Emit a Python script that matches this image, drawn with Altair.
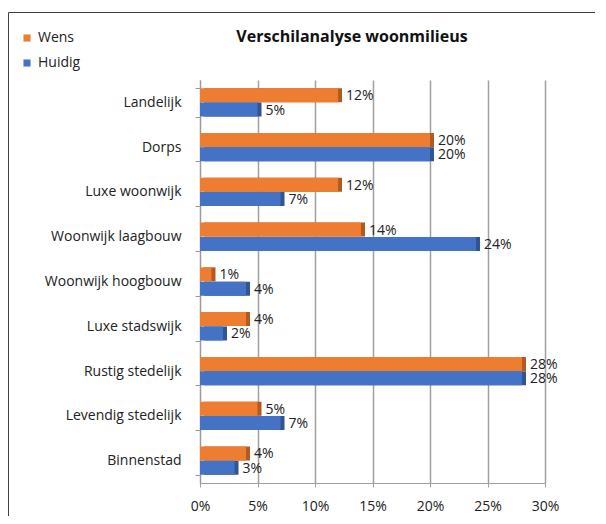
import altair as alt
import pandas as pd

categories = ["Landelijk", "Dorps", "Luxe woonwijk", "Woonwijk laagbouw",
              "Woonwijk hoogbouw", "Luxe stadswijk", "Rustig stedelijk",
              "Levendig stedelijk", "Binnenstad"]
wens = [12, 20, 12, 14, 1, 4, 28, 5, 4]
huidig = [5, 20, 7, 24, 4, 2, 28, 7, 3]
series = ["Wens", "Huidig"]
colors = ["#ED7D31", "#4472C4"]
dark_colors = ["#B45A1F", "#2F5597"]
x_ticks = [0, 0.05, 0.10, 0.15, 0.20, 0.25, 0.30]
title_text = "Verschilanalyse woonmilieus"

rows = []
for c, w, h in zip(categories, wens, huidig):
    rows.append({"cat": c, "serie": "Wens", "v": w / 100, "lbl": f"{w}%"})
    rows.append({"cat": c, "serie": "Huidig", "v": h / 100, "lbl": f"{h}%"})
df = pd.DataFrame(rows)

FONT = "Open Sans"
FS = 14

y_enc = alt.Y("cat:N", sort=categories, title=None,
              scale=alt.Scale(paddingInner=0.36, paddingOuter=0.18),
              axis=alt.Axis(labelFontSize=FS, labelColor="#222222", labelFont=FONT,
                            labelPadding=14, domainColor="#9a9a9a", tickColor="#9a9a9a",
                            tickBand="extent", tickSize=5))
yoff = alt.YOffset("serie:N", sort=series)
x_enc = alt.X("v:Q", title=None,
              scale=alt.Scale(domain=[0, 0.30], nice=False),
              axis=alt.Axis(values=x_ticks, format=".0%", labelFontSize=FS,
                            labelColor="#222222", labelFont=FONT, labelPadding=12,
                            labelFlush=False,
                            grid=True, gridColor="#a0a0a0", gridWidth=1.5,
                            domainColor="#a0a0a0", tickColor="#a0a0a0", tickSize=4))
color_enc = alt.Color("serie:N", sort=series,
                      scale=alt.Scale(domain=series, range=colors),
                      legend=alt.Legend(title=None, orient="none", legendX=-180, legendY=-49,
                                        symbolType="square", symbolSize=50,
                                        labelFontSize=FS, labelFont=FONT, labelColor="#222222",
                                        rowPadding=11, symbolStrokeWidth=0))

base = alt.Chart(df)
depth = base.mark_bar(height=14, xOffset=4).encode(
    y=y_enc, yOffset=yoff, x=x_enc,
    color=alt.Color("serie:N", scale=alt.Scale(domain=series, range=dark_colors), legend=None))
bars = base.mark_bar(height=14).encode(
    y=y_enc, yOffset=yoff, x=x_enc, color=color_enc)
labels = base.mark_text(align="left", dx=8, dy=1, fontSize=FS, font=FONT, color="#222222").encode(
    y=alt.Y("cat:N", sort=categories), yOffset=yoff, x="v:Q", text="lbl:N")

one = alt.Chart(pd.DataFrame({"t": [title_text]}))
frame = one.mark_rect(fill=None, stroke="#404040", strokeWidth=1).encode(
    x=alt.value(-191.5), x2=alt.value(420), y=alt.value(-67.5), y2=alt.value(460))
title = one.mark_text(fontSize=16, font=FONT, fontWeight="bold", color="#111111",
                      align="center", baseline="middle").encode(
    x=alt.value(152), y=alt.value(-43), text="t:N")

chart = alt.layer(frame, title, depth, bars, labels).resolve_scale(color="independent").properties(
    width=345, height=403,
    autosize=alt.AutoSizeParams(type="none"),
    padding={"left": 192, "top": 72, "right": 50, "bottom": 33},
).configure_view(stroke=None)

chart.save("out.html", embed_options={"renderer": "svg", "actions": False})
